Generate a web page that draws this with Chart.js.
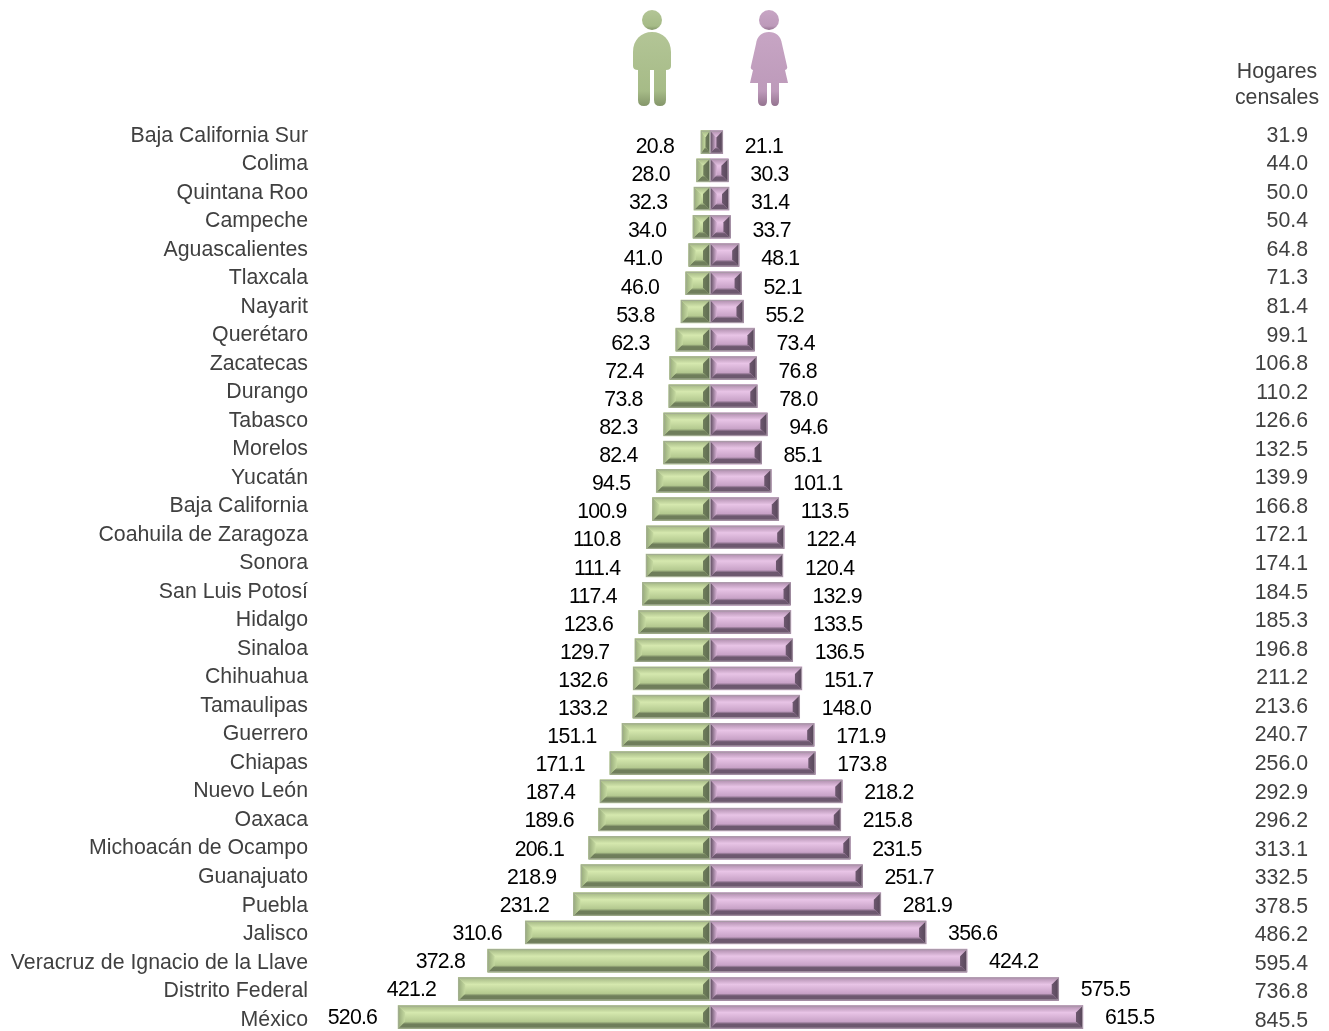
<!DOCTYPE html>
<html lang="es">
<head>
<meta charset="utf-8">
<title>Hogares censales</title>
<script src="https://cdn.jsdelivr.net/npm/chart.js@4"></script>
<style>
  html, body { margin: 0; padding: 0; background: #fff; overflow: hidden; width: 1329px; height: 1031px; }
  #wrap { position: relative; width: 1329px; height: 1031px; overflow: hidden; }
  #chart { position: absolute; left: 0; top: 0; }
  #icons { position: absolute; left: 0; top: 0; }
</style>
</head>
<body>
<div id="wrap">
  <canvas id="chart" width="1329" height="1056"></canvas>
  <svg id="icons" width="1329" height="115">
    <defs>
      <linearGradient id="manFill" x1="0" y1="0" x2="0" y2="1">
        <stop offset="0" stop-color="#b3c596"/>
        <stop offset="0.8" stop-color="#a6bb87"/>
        <stop offset="1" stop-color="#84966a"/>
      </linearGradient>
      <linearGradient id="womanFill" x1="0" y1="0" x2="0" y2="1">
        <stop offset="0" stop-color="#c7a5c4"/>
        <stop offset="0.8" stop-color="#bd9aba"/>
        <stop offset="1" stop-color="#94738f"/>
      </linearGradient>
    </defs>
    <g fill="url(#manFill)">
      <circle cx="652" cy="20" r="10"/>
      <path d="M652 32 C663 32 671 40 671 52 L671 66 Q671 70 666 70 L666 100 Q666 106 660 106 Q654 106 654 100 L654 70 L650 70 L650 100 Q650 106 644 106 Q638 106 638 100 L638 70 Q633 70 633 66 L633 52 C633 40 641 32 652 32 Z"/>
    </g>
    <g fill="url(#womanFill)">
      <circle cx="769" cy="20" r="10"/>
      <path d="M769 32 C776 32 781 36 782 44 L787 66 Q788 69 785 70 L788 83 L779 83 L779 101 Q779 106 775 106 Q771 106 771 101 L771 83 L767 83 L767 101 Q767 106 763 106 Q758 106 758 101 L758 83 L750 83 L753 70 Q750 69 751 66 L756 44 C757 36 762 32 769 32 Z"/>
    </g>
  </svg>
</div>
<script>
// datos
const states = [
  "Baja California Sur", "Colima", "Quintana Roo", "Campeche", "Aguascalientes", "Tlaxcala",
  "Nayarit", "Querétaro", "Zacatecas", "Durango", "Tabasco", "Morelos", "Yucatán",
  "Baja California", "Coahuila de Zaragoza", "Sonora", "San Luis Potosí", "Hidalgo", "Sinaloa",
  "Chihuahua", "Tamaulipas", "Guerrero", "Chiapas", "Nuevo León", "Oaxaca",
  "Michoacán de Ocampo", "Guanajuato", "Puebla", "Jalisco", "Veracruz de Ignacio de la Llave",
  "Distrito Federal", "México"
];
const men = [
  20.8, 28.0, 32.3, 34.0, 41.0, 46.0, 53.8, 62.3, 72.4, 73.8, 82.3, 82.4, 94.5, 100.9, 110.8, 111.4,
  117.4, 123.6, 129.7, 132.6, 133.2, 151.1, 171.1, 187.4, 189.6, 206.1, 218.9, 231.2, 310.6, 372.8, 421.2, 520.6
];
const women = [
  21.1, 30.3, 31.4, 33.7, 48.1, 52.1, 55.2, 73.4, 76.8, 78.0, 94.6, 85.1, 101.1, 113.5, 122.4, 120.4,
  132.9, 133.5, 136.5, 151.7, 148.0, 171.9, 173.8, 218.2, 215.8, 231.5, 251.7, 281.9, 356.6, 424.2, 575.5, 615.5
];
const households = [
  31.9, 44.0, 50.0, 50.4, 64.8, 71.3, 81.4, 99.1, 106.8, 110.2, 126.6, 132.5, 139.9, 166.8, 172.1, 174.1,
  184.5, 185.3, 196.8, 211.2, 213.6, 240.7, 256.0, 292.9, 296.2, 313.1, 332.5, 378.5, 486.2, 595.4, 736.8, 845.5
];
const headerLines = ["Hogares", "censales"];

const FONT = '"Liberation Sans", Arial, sans-serif';
const TEXT_SIZE = 21.3;

// marcos biselados de las barras
const palette = {
  men: { edge: "#a3ad93", top: "#a2b583", hi: "#d5e8ae", lo: "#b4c990", bottom: "#6f7e5b", outer: "#96a97a", inner: "#c5d9a0", end: "#5d6a50" },
  women: { edge: "#a99aa8", top: "#ad8cab", hi: "#e8c4e6", lo: "#c8a2c7", bottom: "#6d586f", outer: "#7a6380", inner: "#dcb6da", end: "#574659" }
};

function poly(ctx, pts, fill) {
  ctx.beginPath();
  pts.forEach((p, i) => (i ? ctx.lineTo(p[0], p[1]) : ctx.moveTo(p[0], p[1])));
  ctx.closePath();
  ctx.fillStyle = fill;
  ctx.fill();
}

function bevelBar(ctx, el, c, outerIsLeft) {
  const l = Math.min(el.x, el.base), r = Math.max(el.x, el.base);
  const t = el.y - el.height / 2, b = el.y + el.height / 2;
  const dx = Math.min(7, (r - l) / 2), dy = 7;
  const face = ctx.createLinearGradient(0, t + dy, 0, b - dy);
  face.addColorStop(0, c.hi);
  face.addColorStop(1, c.lo);
  ctx.fillStyle = face;
  ctx.fillRect(l, t, r - l, b - t);
  const topG = ctx.createLinearGradient(0, t, 0, t + dy);
  topG.addColorStop(0, c.top);
  topG.addColorStop(1, c.hi);
  poly(ctx, [[l, t], [r, t], [r - dx, t + dy], [l + dx, t + dy]], topG);
  const botG = ctx.createLinearGradient(0, b - dy, 0, b);
  botG.addColorStop(0, c.lo);
  botG.addColorStop(0.35, c.bottom);
  botG.addColorStop(1, c.bottom);
  poly(ctx, [[l, b], [r, b], [r - dx, b - dy], [l + dx, b - dy]], botG);
  // extremo claro y extremo oscuro
  const startG = ctx.createLinearGradient(l, 0, l + dx, 0);
  startG.addColorStop(0, outerIsLeft ? c.outer : c.end);
  startG.addColorStop(1, c.inner);
  poly(ctx, [[l, t], [l + dx, t + dy], [l + dx, b - dy], [l, b]], startG);
  const darkEnd = ctx.createLinearGradient(r - dx, 0, r, 0);
  darkEnd.addColorStop(0, c.bottom);
  darkEnd.addColorStop(1, c.end);
  poly(ctx, [[r, t], [r - dx, t + dy], [r - dx, b - dy], [r, b]], darkEnd);
  ctx.strokeStyle = c.edge;
  ctx.lineWidth = 1;
  ctx.strokeRect(l + 0.5, t + 0.5, r - l - 1, b - t - 1);
}

const bevelPlugin = {
  id: "bevel",
  afterDatasetsDraw(chart) {
    const ctx = chart.ctx;
    ctx.save();
    ctx.filter = "blur(0.7px)"; // el original se ve algo difuminado
    chart.getDatasetMeta(0).data.forEach((el) => bevelBar(ctx, el, palette.men, true));
    chart.getDatasetMeta(1).data.forEach((el) => bevelBar(ctx, el, palette.women, false));
    ctx.restore();
  }
};

// etiquetas de valor junto a cada barra y encabezado de la columna derecha
const labelPlugin = {
  id: "valueLabels",
  afterDraw(chart) {
    const ctx = chart.ctx;
    const yVals = chart.scales.yValues;
    const xLabels = chart.scales.xMenLabels;
    ctx.save();
    ctx.font = TEXT_SIZE + "px " + FONT;
    ctx.fillStyle = "#000";
    ctx.textBaseline = "middle";
    ctx.letterSpacing = "-0.8px";
    men.forEach((v, i) => {
      ctx.textAlign = "right";
      ctx.fillText(v.toFixed(1), xLabels.getPixelForValue(-v), yVals.getPixelForValue(i));
    });
    chart.getDatasetMeta(1).data.forEach((el, i) => {
      ctx.textAlign = "left";
      ctx.fillText(women[i].toFixed(1), el.x + 22, yVals.getPixelForValue(i));
    });
    ctx.letterSpacing = "0px";
    ctx.fillStyle = "#404040";
    ctx.textAlign = "center";
    headerLines.forEach((line, i) => ctx.fillText(line, 1277, 72 + i * 26));
    ctx.restore();
  }
};

function rowAxis(position, labels, min, max, extra) {
  return Object.assign({
    type: "linear",
    position: position,
    reverse: true,
    min: min,
    max: max,
    grid: { display: false, drawTicks: false },
    border: { display: false },
    afterBuildTicks: (axis) => { axis.ticks = labels.map((_, i) => ({ value: i })); },
    ticks: {
      autoSkip: false,
      padding: 12,
      font: { family: FONT, size: TEXT_SIZE },
      color: "#404040",
      callback: (v) => labels[v]
    }
  }, extra);
}

new Chart(document.getElementById("chart"), {
  type: "bar",
  data: {
    labels: states,
    datasets: [
      { label: "Hombres", data: men.map((v) => -v), xAxisID: "xMen", yAxisID: "y", base: -5.8, backgroundColor: "#b7cc93", barThickness: 23, grouped: false },
      { label: "Mujeres", data: women, xAxisID: "x", yAxisID: "y", backgroundColor: "#c9a2c8", barThickness: 23, grouped: false }
    ]
  },
  plugins: [bevelPlugin, labelPlugin],
  options: {
    indexAxis: "y",
    responsive: false,
    animation: false,
    layout: { autoPadding: false, padding: { top: 128, bottom: 8, left: 0, right: 21 } },
    plugins: { legend: { display: false }, tooltip: { enabled: false } },
    scales: {
      // area de 320 a 1200: mujeres con cero en 710, hombres con cero en 713.5
      x: { type: "linear", min: -643.6, max: 808.6, display: false },
      xMen: { type: "linear", min: -649.4, max: 802.8, display: false },
      xMenLabels: { type: "linear", min: -616.7, max: 864.3, display: false },
      y: { type: "category", display: false, grid: { display: false } },
      yStates: rowAxis("left", states, 0.221, 30.91, {
        afterFit: (axis) => { axis.width = 320; }
      }),
      yHouseholds: rowAxis("right", households.map((v) => v.toFixed(1)), 0.221, 30.86, {
        afterFit: (axis) => { axis.width = 108; },
        ticks: {
          autoSkip: false,
          padding: 0,
          crossAlign: "far",
          font: { family: FONT, size: TEXT_SIZE },
          color: "#404040",
          callback: (v) => households[v].toFixed(1)
        }
      }),
      yValues: rowAxis("left", states, -0.181, 30.96, { display: false })
    }
  }
});
</script>
</body>
</html>
